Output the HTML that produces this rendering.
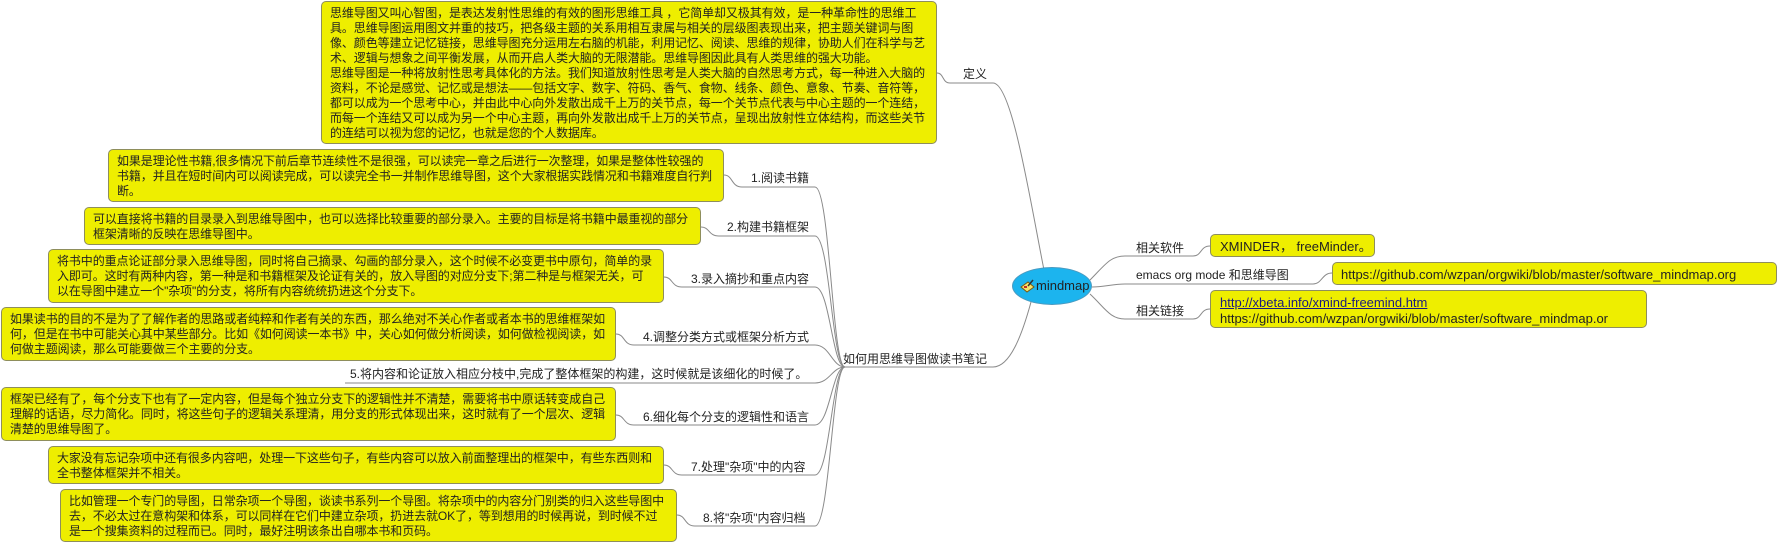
<!DOCTYPE html>
<html><head><meta charset="utf-8"><style>
body{margin:0;width:1777px;height:543px;background:#fff;position:relative;overflow:hidden;font-family:"Liberation Sans","Noto Sans CJK SC",sans-serif;color:#222}
.b{position:absolute;box-sizing:border-box;background:#eeee00;border:1px solid #8e8e5c;border-radius:5px;padding:4px 0 0 8px;font-size:12px;line-height:15px;white-space:nowrap;letter-spacing:-0.1px;overflow:hidden}
.l{position:absolute;font-size:12px;line-height:16px;white-space:nowrap;color:#222}
svg{position:absolute;left:0;top:0}
a{color:#1a1a80}
</style></head><body>
<svg width="1777" height="543" fill="none" stroke="#8a8a8a" stroke-width="1">
<path d="M937,73 C944,73 942,83 950,83 L993,83 C1012,83 1030,200 1044,270"/>
<path d="M845,367 L993,367 C1010,367 1022,335 1031,302"/>
<path d="M724,175 C733,175 731,187 742,187 L815,187 C830,187 832,367 845,367"/>
<path d="M701,227 C710,227 708,236 719,236 L815,236 C830,236 832,367 845,367"/>
<path d="M664,277 C673,277 671,287 682,287 L815,287 C830,287 832,367 845,367"/>
<path d="M616,334 C625,334 623,345 634,345 L815,345 C830,345 832,367 845,367"/>
<path d="M345,383 L815,383 C830,383 832,367 845,367"/>
<path d="M616,415 C625,415 623,425 634,425 L815,425 C830,425 832,367 845,367"/>
<path d="M664,465 C673,465 671,475 682,475 L815,475 C830,475 832,367 845,367"/>
<path d="M677,515 C686,515 684,526 695,526 L815,526 C830,526 832,367 845,367"/>
<path d="M1090,280 C1105,265 1110,256 1125,256 L1193,256 C1202,256 1200,246 1210,246"/>
<path d="M1092,287 C1105,287 1112,284 1125,284 L1313,284 C1322,284 1322,273 1332,273"/>
<path d="M1090,294 C1105,308 1110,319 1125,319 L1193,319 C1202,319 1200,309 1210,309"/>
</svg>

<div class="b" style="left:321px;top:1px;width:616px;height:143px">思维导图又叫心智图，是表达发射性思维的有效的图形思维工具 ，它简单却又极其有效，是一种革命性的思维工<br>具。思维导图运用图文并重的技巧，把各级主题的关系用相互隶属与相关的层级图表现出来，把主题关键词与图<br>像、颜色等建立记忆链接，思维导图充分运用左右脑的机能，利用记忆、阅读、思维的规律，协助人们在科学与艺<br>术、逻辑与想象之间平衡发展，从而开启人类大脑的无限潜能。思维导图因此具有人类思维的强大功能。<br>思维导图是一种将放射性思考具体化的方法。我们知道放射性思考是人类大脑的自然思考方式，每一种进入大脑的<br>资料，不论是感觉、记忆或是想法——包括文字、数字、符码、香气、食物、线条、颜色、意象、节奏、音符等，<br>都可以成为一个思考中心，并由此中心向外发散出成千上万的关节点，每一个关节点代表与中心主题的一个连结，<br>而每一个连结又可以成为另一个中心主题，再向外发散出成千上万的关节点，呈现出放射性立体结构，而这些关节<br>的连结可以视为您的记忆，也就是您的个人数据库。</div>
<div class="l" style="left:963px;top:66px">定义</div>

<div class="b" style="left:108px;top:149px;width:616px;height:53px">如果是理论性书籍,很多情况下前后章节连续性不是很强，可以读完一章之后进行一次整理，如果是整体性较强的<br>书籍，并且在短时间内可以阅读完成，可以读完全书一并制作思维导图，这个大家根据实践情况和书籍难度自行判<br>断。</div>
<div class="l" style="left:751px;top:170px">1.阅读书籍</div>

<div class="b" style="left:84px;top:207px;width:617px;height:38px">可以直接将书籍的目录录入到思维导图中，也可以选择比较重要的部分录入。主要的目标是将书籍中最重视的部分<br>框架清晰的反映在思维导图中。</div>
<div class="l" style="left:727px;top:219px">2.构建书籍框架</div>

<div class="b" style="left:48px;top:249px;width:616px;height:54px">将书中的重点论证部分录入思维导图，同时将自己摘录、勾画的部分录入，这个时候不必变更书中原句，简单的录<br>入即可。这时有两种内容，第一种是和书籍框架及论证有关的，放入导图的对应分支下;第二种是与框架无关，可<br>以在导图中建立一个"杂项"的分支，将所有内容统统扔进这个分支下。</div>
<div class="l" style="left:691px;top:271px">3.录入摘抄和重点内容</div>

<div class="b" style="left:1px;top:307px;width:615px;height:54px">如果读书的目的不是为了了解作者的思路或者纯粹和作者有关的东西，那么绝对不关心作者或者本书的思维框架如<br>何，但是在书中可能关心其中某些部分。比如《如何阅读一本书》中，关心如何做分析阅读，如何做检视阅读，如<br>何做主题阅读，那么可能要做三个主要的分支。</div>
<div class="l" style="left:643px;top:329px">4.调整分类方式或框架分析方式</div>

<div class="l" style="left:350px;top:366px">5.将内容和论证放入相应分枝中,完成了整体框架的构建，这时候就是该细化的时候了。</div>

<div class="b" style="left:1px;top:387px;width:615px;height:54px">框架已经有了，每个分支下也有了一定内容，但是每个独立分支下的逻辑性并不清楚，需要将书中原话转变成自己<br>理解的话语，尽力简化。同时，将这些句子的逻辑关系理清，用分支的形式体现出来，这时就有了一个层次、逻辑<br>清楚的思维导图了。</div>
<div class="l" style="left:643px;top:409px">6.细化每个分支的逻辑性和语言</div>

<div class="b" style="left:48px;top:446px;width:616px;height:38px">大家没有忘记杂项中还有很多内容吧，处理一下这些句子，有些内容可以放入前面整理出的框架中，有些东西则和<br>全书整体框架并不相关。</div>
<div class="l" style="left:691px;top:459px">7.处理"杂项"中的内容</div>

<div class="b" style="left:60px;top:489px;width:617px;height:53px">比如管理一个专门的导图，日常杂项一个导图，谈读书系列一个导图。将杂项中的内容分门别类的归入这些导图中<br>去，不必太过在意构架和体系，可以同样在它们中建立杂项，扔进去就OK了，等到想用的时候再说，到时候不过<br>是一个搜集资料的过程而已。同时，最好注明该条出自哪本书和页码。</div>
<div class="l" style="left:703px;top:510px">8.将"杂项"内容归档</div>

<div class="l" style="left:843px;top:351px">如何用思维导图做读书笔记</div>

<div style="position:absolute;left:1012px;top:267px;width:80px;height:38px;border-radius:50%;background:#1cb4ee;box-sizing:border-box;border:1px solid #4a9ac0"></div>
<svg width="1777" height="543"><g transform="translate(1021,280)"><polygon points="0,7 7,2 13,7 6,12" fill="#f3e36a" stroke="#7a5a10" stroke-width="1"/><line x1="7" y1="6" x2="12" y2="0" stroke="#333" stroke-width="1.5"/><rect x="3" y="6" width="3" height="2" fill="#c03020"/></g></svg>
<div class="l" style="left:1036px;top:278px;font-size:13px;line-height:16px">mindmap</div>

<div class="l" style="left:1136px;top:240px">相关软件</div>
<div class="b" style="left:1210px;top:234px;width:165px;height:23px;padding-left:9px;letter-spacing:0;font-size:13px">XMINDER， freeMinder。</div>
<div class="l" style="left:1136px;top:267px">emacs org mode 和思维导图</div>
<div class="b" style="left:1332px;top:262px;width:445px;height:23px;padding-left:8px;letter-spacing:0;font-size:13px">https://github.com/wzpan/orgwiki/blob/master/software_mindmap.org</div>
<div class="l" style="left:1136px;top:303px">相关链接</div>
<div class="b" style="left:1210px;top:290px;width:437px;height:38px;padding-left:9px;letter-spacing:0;line-height:16px;font-size:13px"><a href="#">http://xbeta.info/xmind-freemind.htm</a><br>https://github.com/wzpan/orgwiki/blob/master/software_mindmap.or</div>
</body></html>
